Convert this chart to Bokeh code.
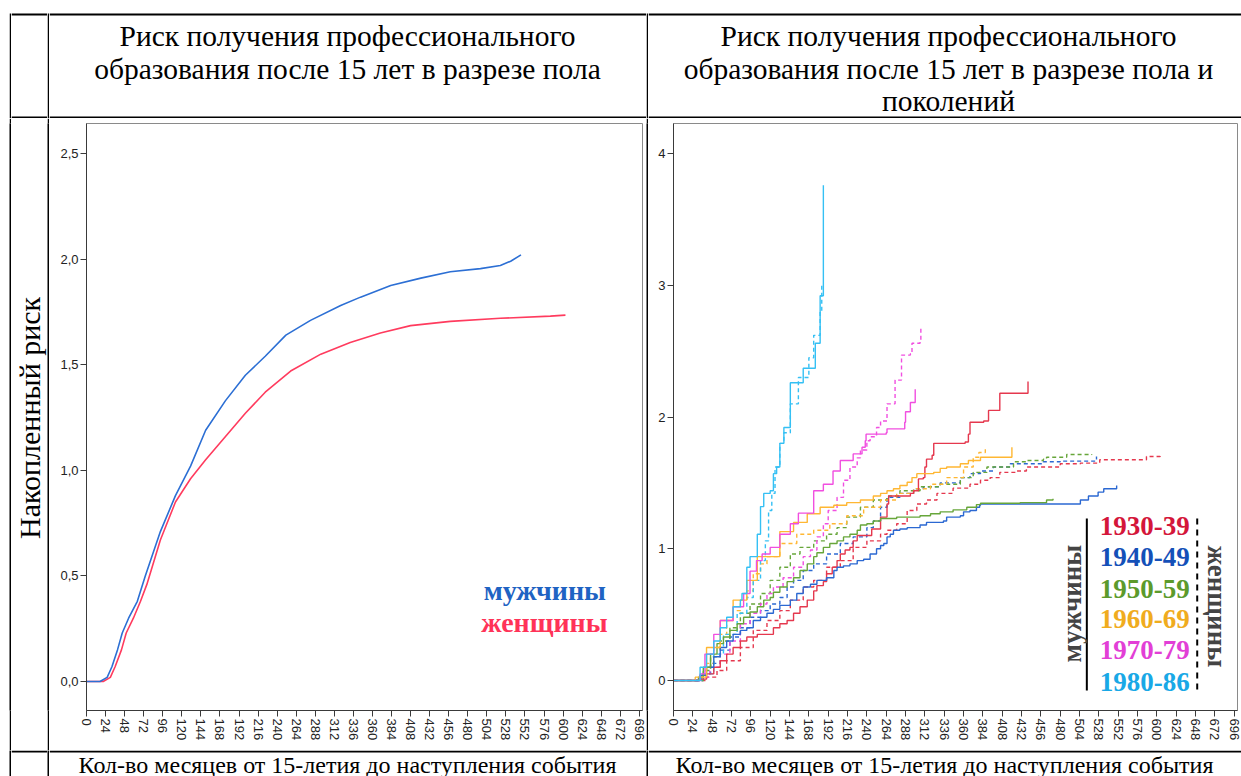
import math
from bokeh.plotting import figure
from bokeh.models import Range1d, Label, FixedTicker, CustomJSTickFormatter, BoxAnnotation
from bokeh.layouts import column, row
from bokeh.embed import file_html
from bokeh.resources import INLINE

# ---------------- data ----------------
X_TICKS = [0, 24, 48, 72, 96, 120, 144, 168, 192, 216, 240, 264, 288, 312, 336,
           360, 384, 408, 432, 456, 480, 504, 528, 552, 576, 600, 624, 648, 672, 696]
LEFT_Y_TICKS = [0.0, 0.5, 1.0, 1.5, 2.0, 2.5]
RIGHT_Y_TICKS = [0, 1, 2, 3, 4]

# left chart: cumulative hazard by sex
MEN_M = [0, 17, 26, 32, 39, 45, 53, 64, 74, 93, 112, 131, 150, 175, 200, 225, 251,
         282, 320, 345, 383, 421, 458, 496, 521, 534, 547]
MEN_V = [0, 0, 0.02, 0.07, 0.15, 0.23, 0.30, 0.38, 0.50, 0.71, 0.88, 1.02, 1.19, 1.33,
         1.45, 1.54, 1.64, 1.71, 1.78, 1.82, 1.875, 1.91, 1.94, 1.955, 1.97, 1.99, 2.02]
WOMEN_M = [0, 21, 30, 36, 44, 50, 59, 68, 76, 93, 112, 131, 150, 175, 200, 225, 257,
           295, 332, 370, 408, 458, 521, 584, 603]
WOMEN_V = [0, 0, 0.02, 0.07, 0.15, 0.23, 0.30, 0.38, 0.46, 0.67, 0.85, 0.96, 1.05, 1.16,
           1.27, 1.37, 1.47, 1.55, 1.605, 1.65, 1.685, 1.705, 1.72, 1.73, 1.735]

# right chart: by sex and generation (men solid, women dashed)
COHORTS = ["1930-39", "1940-49", "1950-59", "1960-69", "1970-79", "1980-86"]

M30_X = [0, 25, 33, 41, 50, 58, 66, 74, 83, 91, 104, 112, 124, 132, 141, 149, 157, 166, 174,
         178, 186, 190, 197, 203, 207, 213, 219, 223, 228, 240, 246, 257, 265, 267, 281, 294,
         298, 304, 310, 312, 314, 321, 323, 339, 362, 366, 368, 385, 391, 405, 405, 440, 440]
M30_Y = [0, 0, 0.01, 0.05, 0.10, 0.15, 0.20, 0.25, 0.30, 0.33, 0.35, 0.35, 0.40, 0.43, 0.455,
         0.51, 0.56, 0.61, 0.68, 0.72, 0.75, 0.81, 0.86, 0.91, 0.96, 0.99, 1.01, 1.06, 1.10,
         1.10, 1.15, 1.24, 1.34, 1.40, 1.40, 1.42, 1.44, 1.53, 1.54, 1.62, 1.68, 1.71, 1.80,
         1.80, 1.81, 1.87, 1.96, 1.97, 2.05, 2.13, 2.18, 2.18, 2.27]
W30_X = [0, 28, 41, 54, 66, 83, 99, 116, 132, 145, 161, 174, 190, 207, 223, 240, 257, 265,
         277, 290, 302, 314, 327, 347, 368, 381, 393, 405, 426, 438, 463, 480, 505, 529, 587, 604]
W30_Y = [0, 0, 0.025, 0.076, 0.15, 0.25, 0.38, 0.455, 0.53, 0.61, 0.71, 0.76, 0.86, 0.91,
         1.01, 1.06, 1.11, 1.14, 1.19, 1.29, 1.34, 1.37, 1.42, 1.46, 1.49, 1.52, 1.54, 1.58,
         1.59, 1.62, 1.62, 1.645, 1.65, 1.675, 1.70, 1.72]

M40_X = [0, 24, 33, 41, 50, 58, 66, 74, 83, 91, 99, 108, 116, 124, 132, 145, 153, 161, 170,
         178, 190, 199, 203, 211, 219, 228, 236, 244, 252, 257, 261, 265, 269, 273, 281, 290,
         306, 314, 335, 339, 356, 360, 368, 376, 380, 381, 503, 505, 513, 515, 525, 527, 534,
         549, 550]
M40_Y = [0, 0, 0.04, 0.10, 0.18, 0.25, 0.30, 0.35, 0.38, 0.40, 0.455, 0.48, 0.51, 0.54, 0.57,
         0.61, 0.66, 0.71, 0.73, 0.76, 0.78, 0.835, 0.86, 0.87, 0.885, 0.91, 0.92, 0.96, 1.0,
         1.025, 1.04, 1.09, 1.11, 1.14, 1.15, 1.16, 1.18, 1.20, 1.21, 1.24, 1.25, 1.28, 1.29,
         1.315, 1.33, 1.34, 1.34, 1.37, 1.37, 1.40, 1.40, 1.43, 1.455, 1.455, 1.48]
W40_X = [0, 26, 37, 46, 58, 70, 83, 95, 108, 120, 132, 141, 149, 161, 174, 190, 207, 223,
         240, 248, 257, 265, 281, 298, 310, 331, 356, 368, 381, 397, 418, 459, 480, 525, 525]
W40_Y = [0, 0, 0.05, 0.13, 0.23, 0.33, 0.40, 0.48, 0.53, 0.58, 0.63, 0.71, 0.76, 0.835,
         0.885, 0.96, 1.04, 1.09, 1.16, 1.21, 1.315, 1.39, 1.42, 1.455, 1.47, 1.50, 1.54,
         1.57, 1.59, 1.62, 1.645, 1.66, 1.665, 1.68, 1.70]

M50_X = [0, 22, 31, 37, 46, 54, 62, 70, 79, 87, 95, 104, 112, 120, 124, 132, 141, 149, 157,
         166, 174, 178, 186, 194, 203, 211, 219, 228, 232, 240, 248, 257, 277, 306, 319, 331,
         347, 364, 376, 381, 430, 462, 463, 470, 471]
M50_Y = [0, 0, 0.025, 0.10, 0.20, 0.28, 0.33, 0.38, 0.43, 0.48, 0.52, 0.56, 0.61, 0.63, 0.67,
         0.71, 0.75, 0.78, 0.835, 0.885, 0.94, 0.97, 1.01, 1.04, 1.06, 1.09, 1.11, 1.14, 1.18,
         1.19, 1.21, 1.23, 1.24, 1.25, 1.265, 1.28, 1.295, 1.315, 1.335, 1.345, 1.35, 1.35,
         1.37, 1.37, 1.38]
W50_X = [0, 24, 37, 46, 58, 70, 83, 95, 108, 120, 132, 145, 157, 174, 190, 203, 215, 232,
         248, 265, 281, 306, 331, 356, 372, 389, 422, 438, 459, 463, 488, 519]
W50_Y = [0, 0, 0.076, 0.18, 0.30, 0.40, 0.51, 0.58, 0.66, 0.76, 0.86, 0.96, 1.01, 1.06, 1.11,
         1.16, 1.24, 1.315, 1.37, 1.40, 1.44, 1.47, 1.49, 1.54, 1.58, 1.62, 1.66, 1.67, 1.68,
         1.695, 1.715, 1.72]

M60_X = [0, 20, 27, 41, 58, 74, 91, 104, 132, 149, 166, 182, 199, 215, 232, 248, 257, 265,
         273, 281, 290, 296, 302, 323, 331, 339, 356, 366, 376, 381, 420, 420]
M60_Y = [0, 0, 0.025, 0.25, 0.455, 0.61, 0.76, 0.94, 1.13, 1.20, 1.265, 1.315, 1.33, 1.35,
         1.37, 1.40, 1.42, 1.44, 1.455, 1.48, 1.505, 1.54, 1.57, 1.58, 1.61, 1.62, 1.645, 1.67,
         1.67, 1.695, 1.695, 1.77]
W60_X = [0, 22, 33, 41, 50, 58, 66, 74, 83, 91, 99, 108, 116, 132, 153, 174, 194, 215, 236,
         257, 277, 298, 319, 339, 360, 372, 379, 387]
W60_Y = [0, 0, 0.05, 0.13, 0.25, 0.35, 0.455, 0.53, 0.61, 0.68, 0.81, 0.885, 0.94, 1.04,
         1.11, 1.14, 1.19, 1.25, 1.315, 1.37, 1.42, 1.455, 1.49, 1.54, 1.62, 1.695, 1.73, 1.76]

M70_X = [0, 20, 33, 39, 50, 58, 74, 87, 95, 103, 110, 120, 132, 145, 155, 174, 186, 198, 207,
         221, 223, 234, 238, 239, 264, 265, 283, 287, 288, 293, 294, 300, 300]
M70_Y = [0, 0, 0.05, 0.20, 0.35, 0.455, 0.56, 0.66, 0.83, 0.91, 0.96, 1.01, 1.11, 1.19, 1.27,
         1.44, 1.49, 1.59, 1.67, 1.67, 1.72, 1.77, 1.82, 1.87, 1.88, 1.91, 1.91, 1.96, 2.04,
         2.04, 2.11, 2.11, 2.21]
W70_X = [0, 20, 33, 45, 58, 70, 83, 95, 108, 116, 124, 136, 149, 161, 170, 178, 186, 192,
         203, 211, 219, 228, 232, 240, 244, 252, 257, 265, 275, 283, 294, 296, 306, 307]
W70_Y = [0, 0, 0.025, 0.10, 0.20, 0.30, 0.43, 0.51, 0.58, 0.66, 0.71, 0.78, 0.86, 0.94, 0.99,
         1.09, 1.19, 1.29, 1.39, 1.52, 1.62, 1.69, 1.75, 1.82, 1.85, 1.92, 1.97, 2.10, 2.28,
         2.47, 2.48, 2.56, 2.57, 2.67]

M80_X = [0, 22, 33, 41, 50, 58, 66, 74, 83, 85, 91, 95, 104, 108, 112, 120, 124, 128, 132,
         137, 145, 145, 161, 161, 176, 176, 182, 182, 186, 186]
M80_Y = [0, 0, 0.10, 0.20, 0.30, 0.40, 0.48, 0.56, 0.61, 0.66, 0.86, 0.94, 1.11, 1.32, 1.42,
         1.44, 1.57, 1.62, 1.80, 1.92, 2.07, 2.26, 2.26, 2.37, 2.37, 2.56, 2.56, 2.92, 2.92, 3.76]
W80_X = [0, 22, 35, 50, 62, 79, 91, 99, 108, 114, 118, 122, 126, 132, 137, 145, 155, 168,
         174, 182, 184]
W80_Y = [0, 0, 0.05, 0.20, 0.35, 0.51, 0.63, 0.76, 0.91, 1.06, 1.29, 1.42, 1.62, 1.80, 1.88,
         2.10, 2.30, 2.45, 2.62, 2.80, 3.00]

MEN_SERIES = [(M30_X, M30_Y), (M40_X, M40_Y), (M50_X, M50_Y), (M60_X, M60_Y),
              (M70_X, M70_Y), (M80_X, M80_Y)]
WOMEN_SERIES = [(W30_X, W30_Y), (W40_X, W40_Y), (W50_X, W50_Y), (W60_X, W60_Y),
                (W70_X, W70_Y), (W80_X, W80_Y)]

# ---------------- style ----------------
SERIF = "Liberation Serif"
SANS = "Liberation Sans"
LINE_COLORS = ["#e5384e", "#2b68d2", "#67a63a", "#ffb733", "#f14fe0", "#35c0f4"]
TEXT_COLORS = ["#d4163a", "#1450b8", "#5c9a2b", "#f0ac1e", "#e23fd6", "#19a8e6"]
BLUE = "#2c6fd4"
RED = "#ff3b5e"

# table geometry (pixels)
WM, WS, WA, WB, WC = 9, 2, 36, 597, 593
H_HEAD, H_CHART, H_FOOT = 118, 632, 26


def cell(w, h, boxes=(), color="white"):
    p = figure(width=w, height=h, x_range=Range1d(0, w), y_range=Range1d(h, 0),
               min_border=0, toolbar_location=None, output_backend="svg",
               x_axis_location=None, y_axis_location=None, outline_line_color=None,
               background_fill_color=color, border_fill_color=color)
    p.grid.visible = False
    for (x0, x1, y0, y1) in boxes:
        p.add_layout(BoxAnnotation(left=x0, right=x1, top=y0, bottom=y1,
                                   fill_color="black", fill_alpha=1.0, line_color=None,
                                   line_alpha=0))
    return p


def add_text(p, x, y, text, size, angle=0.0, bold=False, color="black", align="center"):
    p.add_layout(Label(x=x, y=y, text=text, text_font=SERIF, text_font_size=size,
                       text_align=align, text_baseline="middle", angle=angle,
                       text_font_style="bold" if bold else "normal", text_color=color))


def style_axes(p):
    for ax in (p.xaxis[0], p.yaxis[0]):
        ax.major_tick_in = 0
        ax.major_tick_out = 6
        ax.minor_tick_in = 0
        ax.minor_tick_out = 0
        ax.axis_line_color = "#3a3a3a"
        ax.major_tick_line_color = "#3a3a3a"
        ax.major_label_text_font = SANS
        ax.major_label_text_font_size = "13px"
        ax.major_label_text_color = "#222222"
        ax.major_label_standoff = 2
    p.xaxis.ticker = FixedTicker(ticks=X_TICKS)
    p.xaxis.major_label_orientation = -math.pi / 2
    p.grid.visible = False
    p.outline_line_color = "#8a8a8a"
    p.outline_line_width = 1


# ---------------- header row ----------------
hM = cell(WM, H_HEAD)
hb0 = cell(WS, H_HEAD, [(0, WS, 13, H_HEAD)])
hA = cell(WA, H_HEAD, [(0, WA, 13, 15), (0, WA, 116, 118)])
hs1 = cell(WS, H_HEAD, [(0, WS, 13, H_HEAD)])
hB = cell(WB, H_HEAD, [(0, WB, 13, 15), (0, WB, 116, 118)])
add_text(hB, 298, 35, "Риск получения профессионального", "29.5px")
add_text(hB, 298, 68, "образования после 15 лет в разрезе пола", "29.5px")
hs2 = cell(WS, H_HEAD, [(0, WS, 13, H_HEAD)])
hC = cell(WC, H_HEAD, [(0, WC, 13, 15), (0, WC, 116, 118)])
add_text(hC, 300, 35, "Риск получения профессионального", "29.5px")
add_text(hC, 300, 68, "образования после 15 лет в разрезе пола и", "29.5px")
add_text(hC, 300, 100, "поколений", "29.5px")

# ---------------- chart row ----------------
cM = cell(WM, H_CHART)
cb0 = cell(WS, H_CHART, color="black")
cA = cell(WA, H_CHART)
add_text(cA, 18, 317, "Накопленный риск", "30px", angle=math.pi / 2)
cs1 = cell(WS, H_CHART, color="black")
cs2 = cell(WS, H_CHART, color="black")

left = figure(width=WB, height=H_CHART, x_range=Range1d(0, 700),
              y_range=Range1d(-0.137, 2.642), min_border_left=37, min_border_right=4,
              min_border_top=5, min_border_bottom=40, toolbar_location=None,
              output_backend="svg")
style_axes(left)
left.yaxis.ticker = FixedTicker(ticks=LEFT_Y_TICKS)
left.yaxis.formatter = CustomJSTickFormatter(code="return tick.toFixed(1).replace('.', ',');")
left.line(WOMEN_M, WOMEN_V, line_color=RED, line_width=1.6)
left.line(MEN_M, MEN_V, line_color=BLUE, line_width=1.6)
left.add_layout(Label(x=500, y=0.431, text="мужчины", text_font=SERIF, text_font_size="28px",
                      text_font_style="bold", text_color="#1f63c3", text_baseline="middle"))
left.add_layout(Label(x=497, y=0.279, text="женщины", text_font=SERIF, text_font_size="28px",
                      text_font_style="bold", text_color="#ff3358", text_baseline="middle"))

right = figure(width=WC, height=H_CHART, x_range=Range1d(0, 700),
               y_range=Range1d(-0.228, 4.228), min_border_left=25, min_border_right=4,
               min_border_top=5, min_border_bottom=40, toolbar_location=None,
               output_backend="svg")
style_axes(right)
right.yaxis.ticker = FixedTicker(ticks=RIGHT_Y_TICKS)
for (xs, ys), col in zip(WOMEN_SERIES, LINE_COLORS):
    right.step(xs, ys, mode="after", line_color=col, line_width=1.4, line_dash="4 3")
for (xs, ys), col in zip(MEN_SERIES, LINE_COLORS):
    right.step(xs, ys, mode="after", line_color=col, line_width=1.4)

# legend block (cohort labels with sex brackets)
LEG_Y = [1.176, 0.941, 0.698, 0.463, 0.228, -0.008]
for name, yy, tc in zip(COHORTS, LEG_Y, TEXT_COLORS):
    right.add_layout(Label(x=529, y=yy, text=name, text_font=SERIF, text_font_size="27px",
                           text_font_style="bold", text_color=tc, text_baseline="middle"))
right.segment(x0=[513], y0=[1.23], x1=[513], y1=[-0.076], line_color="black", line_width=2)
right.segment(x0=[650], y0=[1.23], x1=[650], y1=[-0.076], line_color="black", line_width=2,
              line_dash="6 5")
right.add_layout(Label(x=495, y=0.584, text="мужчины", text_font=SERIF, text_font_size="27px",
                       text_font_style="bold", text_align="center", text_baseline="middle",
                       angle=math.pi / 2))
right.add_layout(Label(x=674, y=0.562, text="женщины", text_font=SERIF, text_font_size="27px",
                       text_font_style="bold", text_align="center", text_baseline="middle",
                       angle=-math.pi / 2))

# ---------------- footer row ----------------
fM = cell(WM, H_FOOT)
fb0 = cell(WS, H_FOOT, color="black")
fA = cell(WA, H_FOOT, [(0, WA, 0, 2)])
fs1 = cell(WS, H_FOOT, color="black")
fB = cell(WB, H_FOOT, [(0, WB, 0, 2)])
add_text(fB, 298, 14, "Кол-во месяцев от 15-летия до наступления события", "24px")
fs2 = cell(WS, H_FOOT, color="black")
fC = cell(WC, H_FOOT, [(0, WC, 0, 2)])
add_text(fC, 296, 14, "Кол-во месяцев от 15-летия до наступления события", "24px")

layout = column(
    row(hM, hb0, hA, hs1, hB, hs2, hC),
    row(cM, cb0, cA, cs1, left, cs2, right),
    row(fM, fb0, fA, fs1, fB, fs2, fC),
)

open("out.html", "w").write(file_html(layout, INLINE))
